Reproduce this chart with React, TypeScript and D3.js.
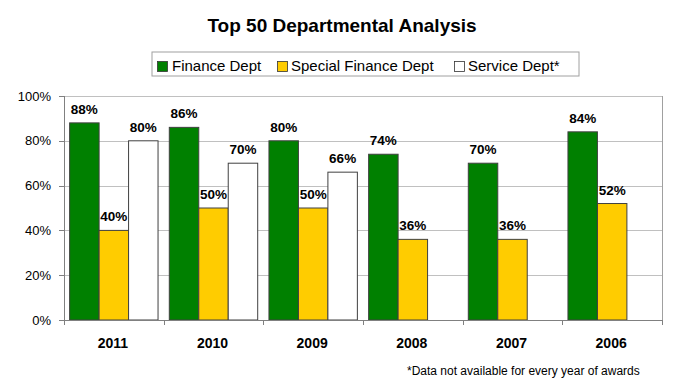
import React from "react";
import * as d3 from "d3";

const categories = ["2011", "2010", "2009", "2008", "2007", "2006"];
const seriesNames = ["Finance Dept", "Special Finance Dept", "Service Dept*"];
const financeDept = [88, 86, 80, 74, 70, 84];
const specialFinanceDept = [40, 50, 50, 36, 36, 52];
const serviceDept: (number | null)[] = [80, 70, 66, null, null, null];
const yTicks = [0, 20, 40, 60, 80, 100];
const colors = ["#008000", "#FFCC00", "#FFFFFF"];

const W = 684;
const H = 385;
const M = { left: 64, right: 662, top: 96, bottom: 320 };
const FONT = "'Liberation Sans', Arial, sans-serif";

export default function App() {
  const series = [financeDept, specialFinanceDept, serviceDept];
  const x0 = d3
    .scaleBand<string>()
    .domain(categories)
    .range([M.left, M.right])
    .paddingInner(0.113)
    .paddingOuter(0.0565);
  const x1 = d3
    .scaleBand<number>()
    .domain([0, 1, 2])
    .range([0, x0.bandwidth()]);
  const y = d3.scaleLinear().domain([0, 100]).range([M.bottom, M.top]);
  const step = x0.step();
  const boundaries = d3.range(categories.length + 1).map((i) => M.left + i * step);

  const legendItems = [
    { sx: 157, tx: 172 },
    { sx: 277, tx: 291 },
    { sx: 454, tx: 468 },
  ];

  return (
    <svg
      width={W}
      height={H}
      style={{ position: "absolute", left: 0, top: 0, background: "#fff" }}
      fontFamily={FONT}
    >
      <rect x={0} y={0} width={W} height={H} fill="#fff" />
      <text x={342} y={32} textAnchor="middle" fontSize={19} fontWeight="bold" fill="#000">
        Top 50 Departmental Analysis
      </text>

      {/* legend */}
      <rect x={152} y={52} width={427} height={24} fill="#fff" stroke="#a0a0a0" strokeWidth={1} />
      {seriesNames.map((name, i) => (
        <g key={name}>
          <rect
            x={legendItems[i].sx + 0.5}
            y={61.5}
            width={10}
            height={10}
            fill={colors[i]}
            stroke="#333"
            strokeWidth={0.8}
          />
          <text x={legendItems[i].tx} y={71} fontSize={15} fill="#000">
            {name}
          </text>
        </g>
      ))}

      {/* gridlines */}
      {yTicks.map((t) => (
        <line
          key={t}
          x1={M.left}
          x2={M.right}
          y1={Math.round(y(t)) + 0.5}
          y2={Math.round(y(t)) + 0.5}
          stroke="#c0c0c0"
          strokeWidth={1}
        />
      ))}
      <line x1={M.right + 0.5} x2={M.right + 0.5} y1={M.top} y2={M.bottom} stroke="#a0a0a0" />

      {/* bars */}
      {categories.map((c, ci) => (
        <g key={c}>
          {series.map((vals, si) => {
            const v = vals[ci];
            if (v === null || v === undefined) return null;
            const bx = (x0(c) as number) + (x1(si) as number);
            const bw = x1.bandwidth();
            return (
              <g key={si}>
                <rect
                  x={bx}
                  y={y(v)}
                  width={bw}
                  height={y(0) - y(v)}
                  fill={colors[si]}
                  stroke="#404040"
                  strokeWidth={1}
                />
                <text
                  x={bx + bw / 2}
                  y={y(v) - 9}
                  textAnchor="middle"
                  fontSize={13.5}
                  fontWeight="bold"
                  fill="#000"
                >
                  {v}%
                </text>
              </g>
            );
          })}
        </g>
      ))}

      {/* axes */}
      <line x1={M.left + 0.5} x2={M.left + 0.5} y1={M.top} y2={M.bottom} stroke="#808080" />
      <line x1={M.left} x2={M.right + 1} y1={M.bottom + 0.5} y2={M.bottom + 0.5} stroke="#808080" />
      {yTicks.map((t) => (
        <g key={"yt" + t}>
          <line
            x1={M.left - 5}
            x2={M.left}
            y1={Math.round(y(t)) + 0.5}
            y2={Math.round(y(t)) + 0.5}
            stroke="#808080"
          />
          <text x={51} y={y(t) + 4.5} textAnchor="end" fontSize={13} fill="#000">
            {t}%
          </text>
        </g>
      ))}
      {boundaries.map((bx, i) => (
        <line
          key={"xt" + i}
          x1={Math.round(bx) + 0.5}
          x2={Math.round(bx) + 0.5}
          y1={M.bottom}
          y2={M.bottom + 5}
          stroke="#808080"
        />
      ))}
      {categories.map((c) => (
        <text
          key={"xl" + c}
          x={(x0(c) as number) + x0.bandwidth() / 2 - 1}
          y={348}
          textAnchor="middle"
          fontSize={14}
          fontWeight="bold"
          fill="#000"
        >
          {c}
        </text>
      ))}

      <text x={407} y={375} fontSize={12} fill="#000">
        *Data not available for every year of awards
      </text>
    </svg>
  );
}
